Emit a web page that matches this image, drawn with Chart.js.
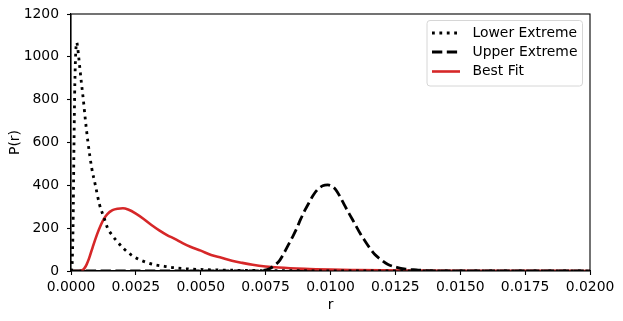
<!DOCTYPE html>
<html><head><meta charset="utf-8">
<script src="https://cdn.jsdelivr.net/npm/chart.js@4/dist/chart.umd.min.js"></script>
<style>html,body{margin:0;padding:0;background:#fff;overflow:hidden}#wrap{width:623px;height:321px}</style>
</head><body><div id="wrap"><canvas id="c" width="623" height="321"></canvas></div>
<script>
// ---- data ----
const lowerR = [0, 0.00003, 0.00005, 0.00007, 0.00008, 0.00009, 0.0001, 0.00012, 0.00014, 0.00017, 0.0002, 0.00022, 0.00026, 0.0003, 0.0004, 0.000475, 0.00055, 0.00065, 0.0008, 0.00094, 0.0011, 0.00128, 0.00141, 0.0016, 0.00173, 0.002, 0.00238, 0.0028, 0.0032, 0.0036, 0.004, 0.0046, 0.005, 0.006, 0.007, 0.008, 0.01, 0.012, 0.015, 0.02];
const lowerP = [0, 10, 50, 150, 211, 310, 430, 640, 823, 980, 1055, 1067, 1040, 995, 880, 800, 710, 605, 480, 400, 310, 246, 200, 165, 145, 108, 70, 45, 30, 22, 15, 9, 7, 4, 2.5, 1.5, 0.8, 0.4, 0.2, 0.1];

const upperR = [0, 0.007, 0.0074, 0.00767, 0.0079, 0.00805, 0.0082, 0.00837, 0.00855, 0.0087, 0.00885, 0.00902, 0.0092, 0.00934, 0.0095, 0.0097, 0.0099, 0.0101, 0.0102, 0.01037, 0.01055, 0.01075, 0.01095, 0.01114, 0.01133, 0.01152, 0.0117, 0.01197, 0.0122, 0.01255, 0.0129, 0.01332, 0.0137, 0.014, 0.015, 0.02];
const upperP = [0, 0, 3, 12, 32, 51, 82, 121, 162, 199, 242, 285, 325, 355, 380, 398, 402, 392, 380, 347, 305, 261, 218, 176, 140, 106, 78, 51, 32, 17, 9, 5, 2, 1, 0, 0];

const fitR = [0, 0.0003, 0.0004, 0.0005, 0.0006, 0.0007, 0.00084, 0.001, 0.00115, 0.00128, 0.0014, 0.0016, 0.0018, 0.002, 0.0022, 0.0025, 0.0028, 0.0031, 0.0034, 0.0037, 0.004, 0.0043, 0.0046, 0.005, 0.0054, 0.0058, 0.0062, 0.0066, 0.007, 0.0075, 0.008, 0.009, 0.01, 0.011, 0.012, 0.013, 0.015, 0.0175, 0.02];
const fitP = [0, 0, 2, 10, 30, 60, 113, 170, 215, 246, 266, 284, 291, 293, 287, 268, 243, 215, 190, 168, 150, 130, 113, 95, 75, 62, 48, 38, 29, 21, 16, 10, 6.5, 4.5, 3, 2, 1, 0.5, 0.3];

const seriesNames = ['Lower Extreme', 'Upper Extreme', 'Best Fit'];
const xTickValues = [0, 0.0025, 0.005, 0.0075, 0.01, 0.0125, 0.015, 0.0175, 0.02];
const yTickValues = [0, 200, 400, 600, 800, 1000, 1200];
const xTitle = 'r';
const yTitle = 'P(r)';

// ---- drawing ----
const FONT = 'DejaVu Sans';
const FS = 13.9;
const pts = (xs, ys) => xs.map((x, i) => ({x: x, y: ys[i]}));

const framePlugin = {
  id: 'frame',
  afterDatasetsDraw(chart) {
    const {ctx, chartArea: a} = chart;
    ctx.save();
    ctx.strokeStyle = '#000';
    ctx.lineWidth = 1.1;
    ctx.strokeRect(a.left, a.top, a.right - a.left, a.bottom - a.top);
    ctx.restore();
  }
};

const legendPlugin = {
  id: 'mplLegend',
  afterDraw(chart) {
    const {ctx, chartArea: a} = chart;
    const x0 = a.right - 7.5, y0 = a.top + 6.5;
    const w = 155.5, h = 65.5;
    const L = x0 - w;
    ctx.save();
    ctx.beginPath();
    const r = 3;
    ctx.moveTo(L + r, y0);
    ctx.lineTo(L + w - r, y0);
    ctx.quadraticCurveTo(L + w, y0, L + w, y0 + r);
    ctx.lineTo(L + w, y0 + h - r);
    ctx.quadraticCurveTo(L + w, y0 + h, L + w - r, y0 + h);
    ctx.lineTo(L + r, y0 + h);
    ctx.quadraticCurveTo(L, y0 + h, L, y0 + h - r);
    ctx.lineTo(L, y0 + r);
    ctx.quadraticCurveTo(L, y0, L + r, y0);
    ctx.closePath();
    ctx.fillStyle = 'rgba(255,255,255,0.8)';
    ctx.fill();
    ctx.strokeStyle = '#d6d6d6';
    ctx.lineWidth = 1;
    ctx.stroke();
    const rows = [y0 + 12.5, y0 + 31.5, y0 + 51];
    chart.data.datasets.forEach((ds, i) => {
      const y = rows[i];
      ctx.beginPath();
      ctx.setLineDash(ds.borderDash || []);
      ctx.lineWidth = ds.borderWidth;
      ctx.strokeStyle = ds.borderColor;
      ctx.lineCap = 'butt';
      ctx.moveTo(L + 5, y);
      ctx.lineTo(L + 33, y);
      ctx.stroke();
      ctx.setLineDash([]);
      ctx.fillStyle = '#000';
      ctx.font = FS + 'px "' + FONT + '"';
      ctx.textBaseline = 'middle';
      ctx.textAlign = 'left';
      ctx.fillText(ds.label, L + 45.5, y);
    });
    ctx.restore();
  }
};

new Chart(document.getElementById('c'), {
  type: 'line',
  data: {
    datasets: [
      {label: seriesNames[0], data: pts(lowerR, lowerP), borderColor: '#000', borderWidth: 2.8, borderDash: [2.8, 4.6], pointRadius: 0, fill: false, cubicInterpolationMode: 'monotone'},
      {label: seriesNames[1], data: pts(upperR, upperP), borderColor: '#000', borderWidth: 2.8, borderDash: [10.3, 4.5], pointRadius: 0, fill: false, cubicInterpolationMode: 'monotone'},
      {label: seriesNames[2], data: pts(fitR, fitP), borderColor: '#d62728', borderWidth: 2.6, pointRadius: 0, fill: false, cubicInterpolationMode: 'monotone'}
    ]
  },
  options: {
    responsive: false,
    animation: false,
    devicePixelRatio: 1,
    layout: {padding: {left: 0, right: 33, top: 14, bottom: 0}},
    plugins: {legend: {display: false}, tooltip: {enabled: false}},
    scales: {
      x: {
        type: 'linear', min: 0, max: 0.02,
        afterBuildTicks: s => { s.ticks = xTickValues.map(v => ({value: v})); },
        afterFit: s => { s.height = 50; s.paddingLeft = 0; s.paddingRight = 0; },
        ticks: {callback: v => Number(v).toFixed(4), color: '#000', font: {family: FONT, size: FS}, maxRotation: 0, autoSkip: false, padding: 4},
        grid: {drawOnChartArea: false, drawTicks: true, tickLength: 4, color: '#000', tickWidth: 1.1},
        border: {display: true, color: '#000', width: 1.1},
        title: {display: true, text: xTitle, color: '#000', font: {family: FONT, size: FS}, padding: {top: 0, bottom: 7}}
      },
      y: {
        type: 'linear', min: 0, max: 1200,
        afterBuildTicks: s => { s.ticks = yTickValues.map(v => ({value: v})); },
        afterFit: s => { s.width = 71; s.paddingTop = 0; s.paddingBottom = 0; },
        ticks: {callback: v => String(v), color: '#000', font: {family: FONT, size: FS}, padding: 8},
        grid: {drawOnChartArea: false, drawTicks: true, tickLength: 4, color: '#000', tickWidth: 1.1},
        border: {display: true, color: '#000', width: 1.1},
        title: {display: true, text: yTitle, color: '#000', font: {family: FONT, size: FS}, padding: {top: 6.7, bottom: 0}}
      }
    }
  },
  plugins: [framePlugin, legendPlugin]
});
</script>
</body></html>
